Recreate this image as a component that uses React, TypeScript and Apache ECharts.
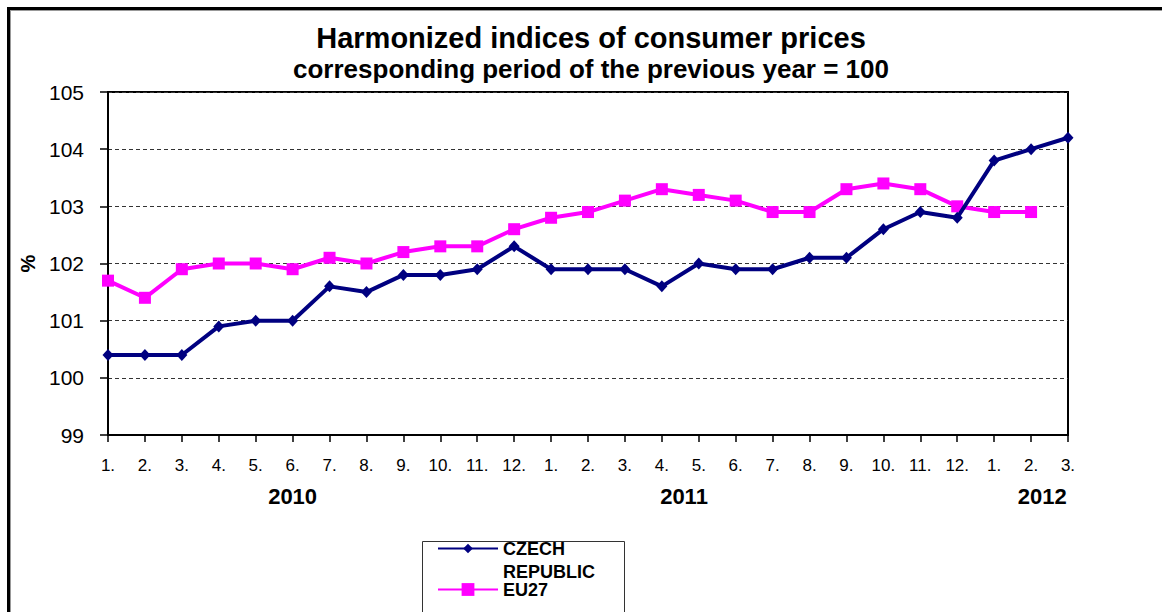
import React, { useEffect, useRef } from 'react';
import * as echarts from 'echarts';

const months = [
  '1.', '2.', '3.', '4.', '5.', '6.', '7.', '8.', '9.', '10.', '11.', '12.',
  '1.', '2.', '3.', '4.', '5.', '6.', '7.', '8.', '9.', '10.', '11.', '12.',
  '1.', '2.', '3.',
];

const czech = [
  100.4, 100.4, 100.4, 100.9, 101.0, 101.0, 101.6, 101.5, 101.8, 101.8, 101.9, 102.3,
  101.9, 101.9, 101.9, 101.6, 102.0, 101.9, 101.9, 102.1, 102.1, 102.6, 102.9, 102.8,
  103.8, 104.0, 104.2,
];

const eu27 = [
  101.7, 101.4, 101.9, 102.0, 102.0, 101.9, 102.1, 102.0, 102.2, 102.3, 102.3, 102.6,
  102.8, 102.9, 103.1, 103.3, 103.2, 103.1, 102.9, 102.9, 103.3, 103.4, 103.3, 103.0,
  102.9, 102.9, null,
];

const yearLabels = ['2010', '2011', '2012'];
const yearAt = [5, 15.6, 25.3];

const titleLine = 'Harmonized indices of consumer prices';
const subtitleLine = 'corresponding period of the previous year = 100';

const seriesNames = ['CZECH REPUBLIC', 'EU27'];
const yMin = 99;
const yMax = 105;
const yStep = 1;

const FONT = '"Liberation Sans", Arial, sans-serif';

export default function App() {
  const ref = useRef<HTMLDivElement>(null);

  useEffect(() => {
    if (!ref.current) return;
    const chart = echarts.init(ref.current, null, { renderer: 'svg' });

    const frame = [
      {
        id: 'frameTop',
        type: 'line',
        shape: { x1: 7, y1: 8.5, x2: 1162, y2: 8.5 },
        style: { stroke: '#000', lineWidth: 3 },
        silent: true,
      },
      {
        id: 'frameLeft',
        type: 'line',
        shape: { x1: 8.5, y1: 7, x2: 8.5, y2: 612 },
        style: { stroke: '#000', lineWidth: 3 },
        silent: true,
      },
      {
        id: 'frameTopInner',
        type: 'line',
        shape: { x1: 10, y1: 10.5, x2: 1162, y2: 10.5 },
        style: { stroke: '#999', lineWidth: 1 },
        silent: true,
      },
      {
        id: 'frameLeftInner',
        type: 'line',
        shape: { x1: 10.5, y1: 10, x2: 10.5, y2: 612 },
        style: { stroke: '#999', lineWidth: 1 },
        silent: true,
      },
      {
        id: 'legendBox',
        type: 'rect',
        shape: { x: 422.5, y: 541.5, width: 202, height: 90 },
        style: { fill: 'none', stroke: '#333', lineWidth: 1 },
        silent: true,
      },
    ];

    const option: any = {
      animation: false,
      backgroundColor: '#fff',
      textStyle: { fontFamily: FONT },
      title: {
        text: titleLine,
        subtext: subtitleLine,
        left: 586,
        textAlign: 'center',
        top: 17,
        itemGap: 0,
        textStyle: {
          fontFamily: FONT,
          fontSize: 29,
          fontWeight: 'bold',
          lineHeight: 31,
          color: '#000',
        },
        subtextStyle: {
          fontFamily: FONT,
          fontSize: 26,
          fontWeight: 'bold',
          lineHeight: 31,
          color: '#000',
        },
      },
      grid: {
        left: 108,
        right: 94,
        top: 92,
        bottom: 177,
        show: true,
        borderColor: '#000',
        borderWidth: 2,
        backgroundColor: 'transparent',
      },
      xAxis: {
        type: 'category',
        data: months,
        boundaryGap: false,
        axisLine: { lineStyle: { color: '#000', width: 2 } },
        axisTick: { show: true, length: 7, lineStyle: { color: '#000', width: 1.5 } },
        axisLabel: { color: '#000', fontSize: 17, margin: 22, interval: 0, fontFamily: FONT },
        splitLine: { show: false },
      },
      yAxis: {
        type: 'value',
        min: yMin,
        max: yMax,
        interval: yStep,
        name: '%',
        nameLocation: 'middle',
        nameGap: 64,
        nameRotate: 90,
        nameTextStyle: { fontSize: 20, fontWeight: 'bold', color: '#000', fontFamily: FONT },
        axisLine: { show: true, lineStyle: { color: '#000', width: 2 } },
        axisTick: { show: true, length: 8, lineStyle: { color: '#000', width: 1.5 } },
        axisLabel: { fontSize: 21, color: '#000', margin: 24, fontFamily: FONT },
        splitLine: { show: true, lineStyle: { color: '#333', type: [4, 3], width: 1 } },
      },
      legend: [
        {
          data: [seriesNames[0]],
          left: 437,
          top: 514,
          orient: 'vertical',
          padding: 0,
          itemWidth: 60,
          itemHeight: 12,
          itemGap: 0,
          selectedMode: false,
          formatter: (name: string) => ' \n' + name.replace(' ', '\n'),
          textStyle: {
            fontFamily: FONT,
            fontSize: 18,
            fontWeight: 'bold',
            color: '#000',
            lineHeight: 23,
          },
        },
        {
          data: [seriesNames[1]],
          left: 437,
          top: 579,
          orient: 'vertical',
          padding: 0,
          itemWidth: 60,
          itemHeight: 16,
          itemGap: 0,
          selectedMode: false,
          textStyle: {
            fontFamily: FONT,
            fontSize: 18,
            fontWeight: 'bold',
            color: '#000',
            lineHeight: 21,
          },
        },
      ],
      graphic: frame,
      series: [
        {
          name: seriesNames[0],
          type: 'line',
          data: czech,
          symbol: 'diamond',
          symbolSize: [11, 12],
          showAllSymbol: true,
          lineStyle: { color: '#000080', width: 4 },
          itemStyle: { color: '#000080' },
          z: 3,
        },
        {
          name: seriesNames[1],
          type: 'line',
          data: eu27,
          symbol: 'rect',
          symbolSize: 12,
          showAllSymbol: true,
          lineStyle: { color: '#FF00FF', width: 4 },
          itemStyle: { color: '#FF00FF' },
          z: 2,
        },
      ],
    };

    chart.setOption(option);

    const px = (p: number) => {
      const i0 = Math.floor(p);
      const i1 = Math.min(i0 + 1, months.length - 1);
      const a = chart.convertToPixel({ xAxisIndex: 0 }, i0) as number;
      const b = chart.convertToPixel({ xAxisIndex: 0 }, i1) as number;
      return a + (b - a) * (p - i0);
    };
    const baseY = chart.convertToPixel({ yAxisIndex: 0 }, yMin) as number;

    const years = yearLabels.map((t, k) => ({
      id: 'year' + k,
      type: 'text',
      x: px(yearAt[k]),
      y: baseY + 61,
      style: {
        text: t,
        fontFamily: FONT,
        fontSize: 22,
        fontWeight: 'bold',
        fill: '#000',
        align: 'center',
        verticalAlign: 'middle',
      },
      silent: true,
    }));

    chart.setOption({ graphic: [...frame, ...years] });

    return () => {
      chart.dispose();
    };
  }, []);

  return (
    <div
      ref={ref}
      style={{ position: 'absolute', left: 0, top: 0, width: 1162, height: 612 }}
    />
  );
}
